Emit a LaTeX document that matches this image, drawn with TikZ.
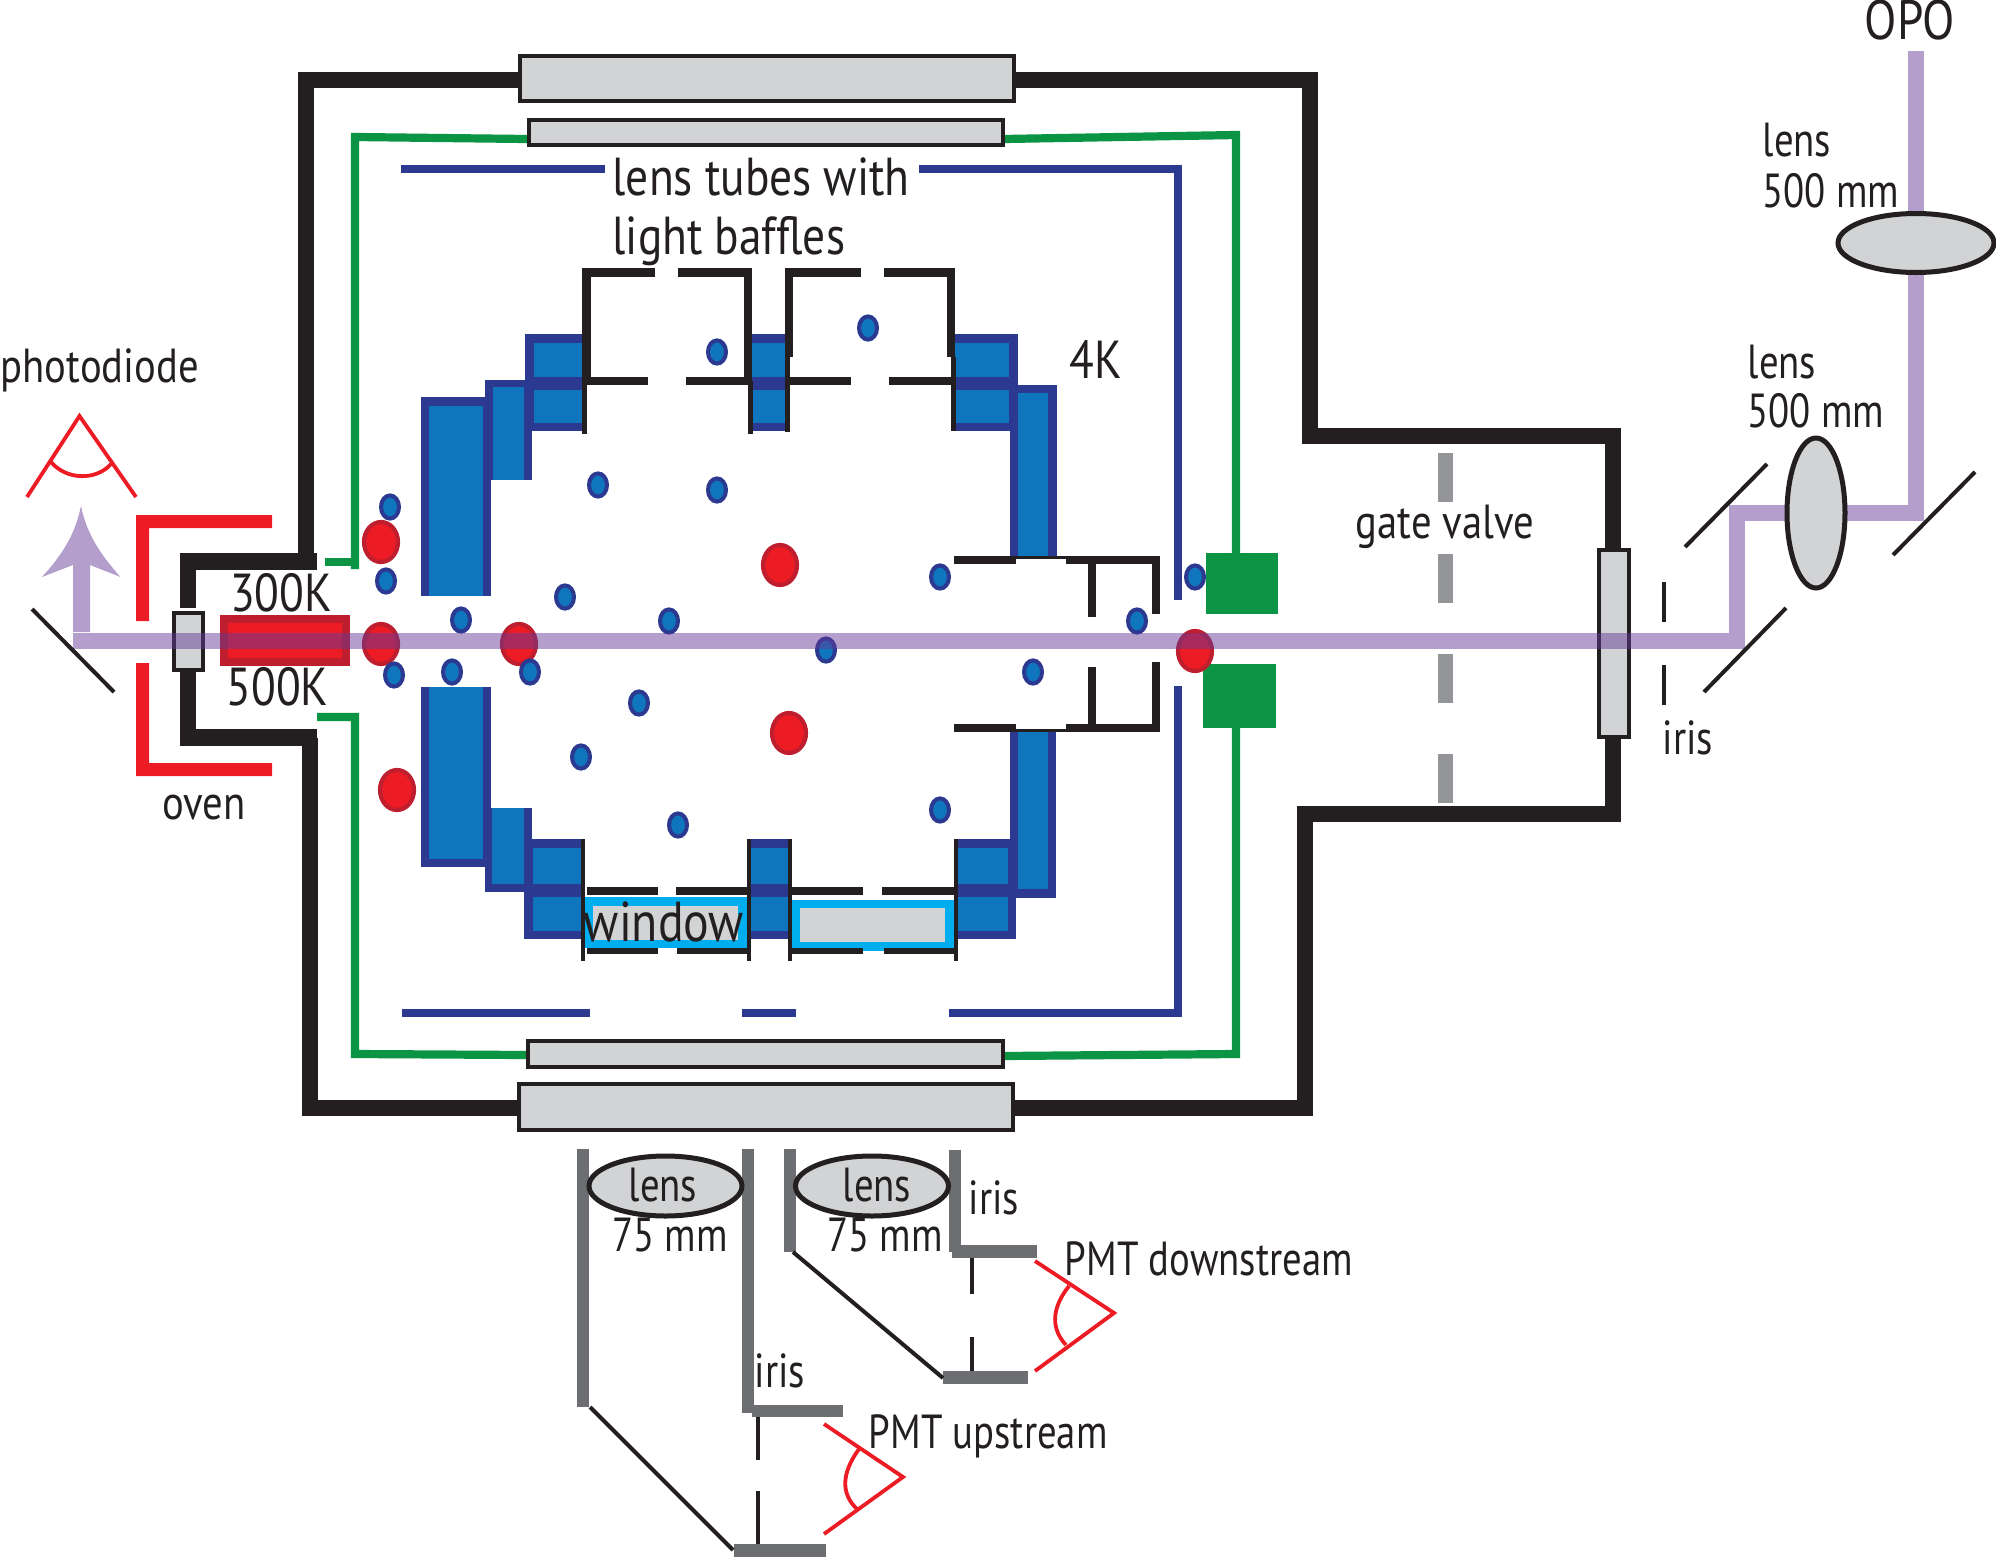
\documentclass[tikz,border=0pt]{standalone}
\usepackage{fontspec}
\setmainfont[FakeStretch=0.85]{PT Sans}
\newfontfamily\narrowf[FakeStretch=0.81]{PT Sans}
\definecolor{ink}{HTML}{231F20}
\definecolor{plategray}{HTML}{D1D3D4}
\definecolor{redfill}{HTML}{ED1C24}
\definecolor{redline}{HTML}{BE1E2D}
\definecolor{navy}{HTML}{2B3990}
\definecolor{midblue}{HTML}{0F75BC}
\definecolor{cyanb}{HTML}{00AEEF}
\definecolor{greenb}{HTML}{0B9444}
\definecolor{beamc}{HTML}{633997}
\definecolor{pipegray}{HTML}{6D6E71}
\definecolor{valvegray}{HTML}{939598}
\tikzset{
  wall/.style={draw=ink,line width=0.165cm,miter limit=10},
  thin ink/.style={draw=ink,line width=0.04cm},
  tube/.style={draw=ink,line width=0.085cm},
  tubethin/.style={draw=ink,line width=0.045cm},
  plate/.style={draw=ink,fill=plategray,line width=0.04cm},
  lensshape/.style={draw=ink,fill=plategray,line width=0.05cm},
  navyline/.style={draw=navy,line width=0.087cm},
  greenline/.style={draw=greenb,line width=0.082cm},
  bdot/.style={draw=navy,fill=midblue,line width=0.04cm},
  rdot/.style={draw=redline,fill=redfill,line width=0.042cm},
  eye/.style={draw=redfill,line width=0.038cm},
  pipe/.style={draw=pipegray,line width=0.122cm},
  beam/.style={draw=beamc,line width=0.16cm,draw opacity=0.49},
  lbl/.style={inner sep=0pt,text=ink,font=\narrowf\fontsize{13.6}{15}\selectfont},
  lblm/.style={inner sep=0pt,text=ink,font=\fontsize{13.6}{15}\selectfont},
  lblb/.style={inner sep=0pt,text=ink,font=\fontsize{15.2}{17}\selectfont},
}
\newcommand{\blk}[4]{\fill[navy] (#1,#2) rectangle (#3,#4);}
\newcommand{\blu}[4]{\fill[midblue] (#1,#2) rectangle (#3,#4);}
\begin{document}
\begin{tikzpicture}[x=0.01cm,y=-0.01cm]
\useasboundingbox (0,0) rectangle (1996,1557);
% blue blocks, upper
\blk{421}{397}{491}{596}\blu{429}{406}{483}{596}
\blk{421}{687}{491}{867}\blu{429}{687}{483}{859}
\blk{485}{380}{532}{480}\blu{493}{387}{524}{480}
\blk{485}{808}{532}{892}\blu{492}{808}{524}{884}
\blk{525}{334}{585}{431}\blu{534}{343}{585}{377}\blu{534}{390}{585}{423}
\blk{524}{839}{585}{939}\blu{533}{848}{585}{884}\blu{533}{897}{585}{931}
\blk{751}{334}{786}{431}\blu{751}{343}{786}{377}\blu{751}{390}{786}{423}
\blk{750}{839}{788}{939}\blu{750}{848}{788}{884}\blu{750}{897}{788}{931}
\blk{954}{334}{1018}{431}\blu{954}{343}{1009}{377}\blu{954}{390}{1009}{423}
\blk{957}{839}{1016}{939}\blu{957}{848}{1008}{884}\blu{957}{897}{1008}{931}
\blk{1010}{385}{1057}{556}\blu{1018}{393}{1048}{556}
\blk{1010}{732}{1056}{898}\blu{1018}{732}{1048}{889}
% windows
\fill[cyanb] (584,897) rectangle (747,948);
\fill[plategray] (593,906) rectangle (738,940);
\fill[cyanb] (791,900) rectangle (954,951);
\fill[plategray] (800,908) rectangle (945,942);
% lens tubes, upper
\draw[tube] (655,272.5) -- (586.5,272.5) -- (586.5,381);
\draw[tube] (678,272.5) -- (748,272.5) -- (748,384);
\draw[tubethin] (584.5,381) -- (584.5,434);
\draw[tubethin] (750.5,381) -- (750.5,434);
\draw[tube] (586,381) -- (648,381);
\draw[tube] (686,381) -- (750,381);
\draw[tube] (861,272.5) -- (789,272.5) -- (789,357);
\draw[tube] (884,272.5) -- (951,272.5) -- (951,357);
\draw[tubethin] (787.5,357) -- (787.5,432);
\draw[tubethin] (953.5,357) -- (953.5,431);
\draw[tube] (790,381) -- (851,381);
\draw[tube] (889,381) -- (952,381);
% lens tubes, lower
\draw[tubethin] (583,839) -- (583,961);
\draw[tubethin] (749,839) -- (749,961);
\draw[tubethin] (790,839) -- (790,961);
\draw[tubethin] (956,839) -- (956,961);
\draw[tube] (587,891) -- (658,891);
\draw[tube] (676,891) -- (749,891);
\draw[tube] (790,891) -- (863,891);
\draw[tube] (882,891) -- (956,891);
\draw[draw=ink,line width=0.06cm] (587,951) -- (658,951);
\draw[draw=ink,line width=0.06cm] (677,951) -- (749,951);
\draw[draw=ink,line width=0.06cm] (790,951) -- (863,951);
\draw[draw=ink,line width=0.06cm] (884,951) -- (956,951);
% lens tube, right
\draw[tube] (954,560) -- (1016,560);
\draw[tube] (1066,560) -- (1160,560);
\draw[draw=ink,line width=0.035cm] (1016,557.5) -- (1066,557.5);
\draw[tube] (1092,560) -- (1092,617);
\draw[tube] (1156,556) -- (1156,614);
\draw[tube] (954,728) -- (1016,728);
\draw[tube] (1066,728) -- (1160,728);
\draw[draw=ink,line width=0.035cm] (1016,730.5) -- (1066,730.5);
\draw[tube] (1092,667) -- (1092,728);
\draw[tube] (1156,662) -- (1156,732);
% navy shield
\draw[navyline] (401,169) -- (605,169);
\draw[navyline] (919,169) -- (1178,169) -- (1178,600);
\draw[navyline] (402,1013) -- (590,1013);
\draw[navyline] (742,1013) -- (796,1013);
\draw[navyline] (949,1013) -- (1178,1013) -- (1178,686);
% green shield
\draw[greenline] (527,139) -- (355,137) -- (355,569);
\draw[greenline] (325,562) -- (359,562);
\draw[greenline] (317,717) -- (355,717) -- (355,1054) -- (527,1055);
\draw[greenline] (1004,139) -- (1236,135) -- (1236,553);
\draw[greenline] (1236,728) -- (1236,1054) -- (1004,1056);
\fill[greenb] (1206,553) rectangle (1278,614);
\fill[greenb] (1203,664) rectangle (1276,728);
% chamber
\draw[wall] (306,553) -- (306,80) -- (519,80);
\draw[wall] (1015,80) -- (1310,80) -- (1310,436) -- (1613,436) -- (1613,548);
\draw[wall] (1613,739) -- (1613,814) -- (1305,814) -- (1305,1108) -- (1014,1108);
\draw[wall] (518,1108) -- (310,1108) -- (310,738);
\draw[wall] (317,561.5) -- (188,561.5) -- (188,608);
\draw[wall] (188,672) -- (188,737.5) -- (317,737.5);
\draw[plate] (520,56) rectangle (1014,101);
\draw[plate] (529,120) rectangle (1003,145);
\draw[plate] (528,1041) rectangle (1003,1067);
\draw[plate] (519,1084) rectangle (1013,1130);
\draw[plate] (174,613) rectangle (203,670);
\draw[plate] (1599,550) rectangle (1629,737);
% oven
\fill[redfill] (272,515) -- (136,515) -- (136,621) -- (149,621) -- (149,528) -- (272,528) -- cycle;
\fill[redfill] (272,776) -- (136,776) -- (136,663) -- (149,663) -- (149,763) -- (272,763) -- cycle;
\draw[draw=redline,fill=redfill,line width=0.08cm] (224,619) rectangle (346,662);
% dots
\foreach \px/\py in {381/542,381/644,519/644,397/790,780/565,789/733,1195/651}
  \draw[rdot] (\px,\py) ellipse (17 and 20);
\foreach \px/\py in {390/507,386/581,461/620,565/597,669/621,394/675,452/672,530/672,639/703,581/757,678/825,598/485,717/490,826/650,940/577,940/810,1137/621,1033/672,1195/577,717/352,868/328}
  \draw[bdot] (\px,\py) ellipse (9 and 11.6);
% beam
\draw[beam] (73,641) -- (1737,641) -- (1737,513) -- (1916,513) -- (1916,51);
\fill[beamc,fill opacity=0.49] (81,506) .. controls (75,535) and (62,555) .. (42,577) -- (73,565) -- (73,632) -- (90,632) -- (90,565) -- (120.5,577) .. controls (101,555) and (87,535) .. (81,506) -- cycle;
% gate valve
\fill[valvegray] (1437.5,453) rectangle (1452.5,502);
\fill[valvegray] (1437.5,554) rectangle (1452.5,603);
\fill[valvegray] (1437.5,654) rectangle (1452.5,703);
\fill[valvegray] (1437.5,754) rectangle (1452.5,803);
% optics right
\draw[lensshape] (1916,243) ellipse (78 and 29.5);
\draw[lensshape] (1816,513) ellipse (29 and 75);
\draw[thin ink] (1685,547) -- (1767,464);
\draw[thin ink] (1704,692) -- (1786,608);
\draw[thin ink] (1893,555) -- (1975,472);
\draw[draw=ink,line width=0.045cm] (1664,582) -- (1664,622);
\draw[draw=ink,line width=0.045cm] (1664,665) -- (1664,705);
\draw[thin ink] (32,609) -- (114,692);
% photodiode eye
\draw[eye] (27,497) -- (79.5,416) -- (136,497);
\draw[eye] (51,462) .. controls (66,480) and (96,481) .. (111,464);
% detection optics
\draw[pipe] (583,1149) -- (583,1407);
\draw[pipe] (748,1149) -- (748,1413);
\draw[pipe] (790,1149) -- (790,1252);
\draw[pipe] (955,1150) -- (955,1252);
\fill[pipegray] (752,1405) rectangle (843,1417);
\fill[pipegray] (952,1245) rectangle (1037,1258);
\fill[pipegray] (943,1371) rectangle (1028,1384);
\fill[pipegray] (734,1544) rectangle (826,1557);
\draw[thin ink] (793,1252) -- (943,1378);
\draw[thin ink] (590,1407) -- (733,1550);
\draw[draw=ink,line width=0.035cm] (972,1258) -- (972,1294);
\draw[draw=ink,line width=0.035cm] (972,1337) -- (972,1371);
\draw[draw=ink,line width=0.035cm] (758,1417) -- (758,1460);
\draw[draw=ink,line width=0.035cm] (758,1491) -- (758,1544);
\draw[lensshape] (665.5,1186) ellipse (76.5 and 30);
\draw[lensshape] (872,1186) ellipse (76.5 and 30);
\draw[eye] (1035,1261) -- (1114,1313) -- (1035,1371);
\draw[eye] (1069,1286) .. controls (1050,1310) and (1052,1330) .. (1066,1345);
\draw[eye] (824,1424) -- (903,1477) -- (824,1534);
\draw[eye] (859,1449) .. controls (840,1475) and (842,1495) .. (857,1509);
% text
\node[lblb,font=\fontsize{15.8}{18}\selectfont] (topo) at (1910,20) {OPO};
\node[lbl,anchor=west] (tlens1) at (1762,140) {lens};
\node[lbl,anchor=west] (tmm1) at (1762,191) {500 mm};
\node[lbl,anchor=west] (tlens2) at (1747,362) {lens};
\node[lbl,anchor=west] (tmm2) at (1747,411) {500 mm};
\node[lblb] (t4k) at (1096,359) {4K};
\node[lblm] (tgate) at (1445,527) {gate valve};
\node[lbl] (tiris1) at (1688,738) {iris};
\node[lblm,anchor=west] (tphoto) at (0,370) {photodiode};
\node[lblb] (t300) at (281,593) {300K};
\node[lblb] (t500) at (277.5,687) {500K};
\node[lblm] (toven) at (204,808) {oven};
\node[lblb,anchor=west] (ttubes) at (612,177) {lens tubes with};
\node[lblb,anchor=west] (tbaff) at (612,241) {light baffles};
\node[lblb,font=\fontsize{16}{18}\selectfont] (twin) at (664,922) {window};
\node[lbl] (tl1) at (663,1185) {lens};
\node[lbl] (tm1) at (670,1235) {75 mm};
\node[lbl] (tl2) at (877,1185) {lens};
\node[lbl] (tm2) at (885,1235) {75 mm};
\node[lbl] (tiris2) at (994,1198) {iris};
\node[lbl,anchor=west] (tpd) at (1064,1259) {PMT downstream};
\node[lbl] (tiris3) at (780,1371) {iris};
\node[lbl,anchor=west] (tpu) at (868,1436) {PMT upstream};
\end{tikzpicture}
\end{document}
